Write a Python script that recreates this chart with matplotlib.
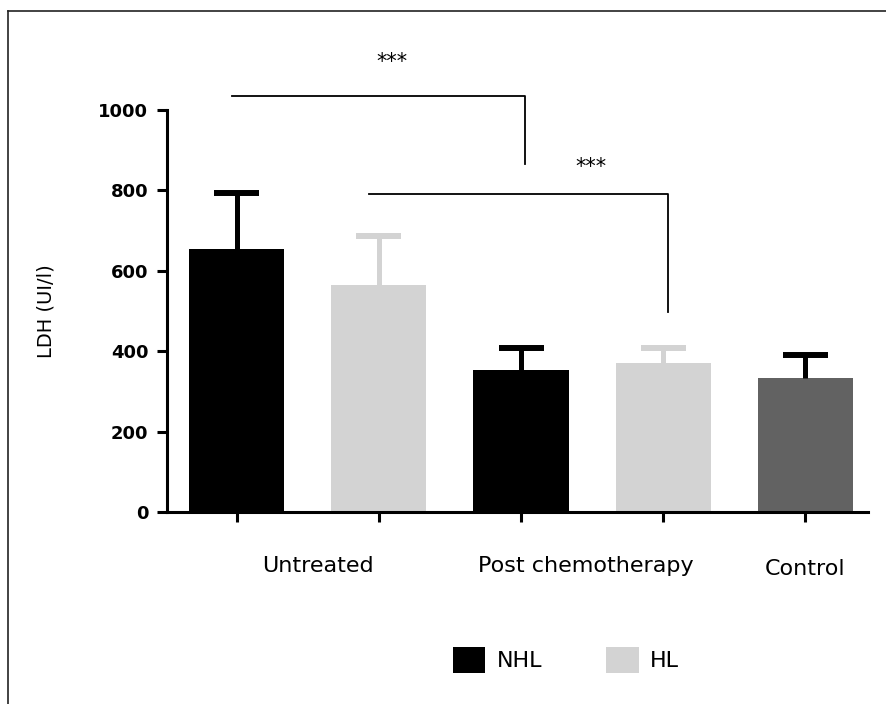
import matplotlib
matplotlib.use("Agg")
import matplotlib.pyplot as plt
from matplotlib.lines import Line2D
from matplotlib.patches import Patch

plt.rcParams['font.family'] = ['DejaVu Sans']

# Data
groups = ["NHL", "HL", "NHL", "HL", "Control"]
means = [654, 565, 353, 370, 333]
errs = [139, 122, 55, 38, 58]
bar_colors = ["#000000", "#d3d3d3", "#000000", "#d3d3d3", "#626262"]
err_colors = ["#000000", "#d3d3d3", "#000000", "#d3d3d3", "#000000"]
yticks = [0, 200, 400, 600, 800, 1000]
cat_labels = ["Untreated", "Post chemotherapy", "Control"]
legend_labels = ["NHL", "HL"]
legend_colors = ["#000000", "#d3d3d3"]

W, H = 886, 704
fig = plt.figure(figsize=(W / 100, H / 100), dpi=100)

ax_left, ax_right = 167, 868
ax_top, ax_bottom = 110, 512
ax = fig.add_axes([ax_left / W, (H - ax_bottom) / H,
                   (ax_right - ax_left) / W, (ax_bottom - ax_top) / H])

x = list(range(len(means)))
ax.bar(x, means, width=0.67, color=bar_colors, zorder=2)
cap_half = 0.158
for xi, m, e, c in zip(x, means, errs, err_colors):
    ax.vlines(xi, m, m + e, colors=c, linewidth=3.6, zorder=3)
    ax.hlines(m + e, xi - cap_half, xi + cap_half, colors=c, linewidth=4.3, zorder=3)

ax.set_ylim(0, 1000)
ax.set_xlim(-0.49, 4.44)
ax.set_yticks(yticks)
ax.set_yticklabels([str(v) for v in yticks], fontsize=13, fontweight='bold')
ax.set_xticks(x)
ax.set_xticklabels([])
ax.tick_params(axis='y', direction='out', length=7.5, width=2.2, pad=6)
ax.tick_params(axis='x', direction='out', length=7.5, width=2.2)
for s in ['top', 'right']:
    ax.spines[s].set_visible(False)
for s in ['left', 'bottom']:
    ax.spines[s].set_linewidth(2.2)

ax.set_ylabel("LDH (UI/l)", fontsize=14)
ax.yaxis.label.set_verticalalignment('center')
ax.yaxis.set_label_coords((46 - ax_left) / (ax_right - ax_left),
                          (ax_bottom - 311) / (ax_bottom - ax_top))

def fx(px):
    return px / W

def fy(py):
    return 1 - py / H

# category labels
fig.text(fx(318), fy(566), cat_labels[0], fontsize=16, ha='center', va='center')
fig.text(fx(586), fy(566), cat_labels[1], fontsize=16, ha='center', va='center')
fig.text(fx(805), fy(569), cat_labels[2], fontsize=16, ha='center', va='center')

# significance brackets (data coords, unclipped)
ax.plot([-0.03, 2.03, 2.03], [1035, 1035, 865], color='black', lw=1.3,
        clip_on=False, zorder=4)
ax.text(1.09, 1120, "***", ha='center', va='center', fontsize=15, clip_on=False)
ax.plot([0.93, 3.03, 3.03], [791, 791, 497], color='black', lw=1.3,
        clip_on=False, zorder=4)
ax.text(2.49, 858, "***", ha='center', va='center', fontsize=15, clip_on=False)

# legend
handles = [Patch(facecolor=c, edgecolor='none') for c in legend_colors]
fig.legend(handles, legend_labels, loc='center', bbox_to_anchor=(fx(566), fy(660)),
           ncol=2, frameon=False, fontsize=16, handlelength=1.45, handleheight=1.4,
           handletextpad=0.5, columnspacing=2.9, borderpad=0)

# frame lines (top and left)
fig.add_artist(Line2D([fx(8), 1.0], [fy(11), fy(11)], color='#222222', lw=1.2,
                      transform=fig.transFigure))
fig.add_artist(Line2D([fx(8), fx(8)], [fy(11), 0.0], color='#222222', lw=1.2,
                      transform=fig.transFigure))

fig.savefig("out.png", dpi=100)
